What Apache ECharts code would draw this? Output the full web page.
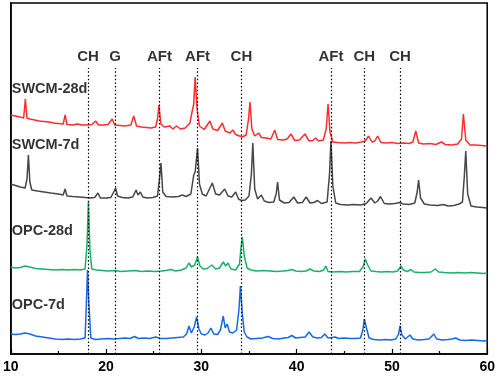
<!DOCTYPE html>
<html>
<head>
<meta charset="utf-8">
<script src="https://cdn.jsdelivr.net/npm/echarts@6/dist/echarts.min.js"></script>
<style>
  html, body { margin: 0; padding: 0; background: #fff; }
  #chart { width: 498px; height: 377px; }
</style>
</head>
<body>
<div id="chart"></div>
<script>
// 2theta / intensity (arbitrary units, patterns stacked with an offset)
var swcm28d = [
  [10.0,239],[10.5,238],[11.0,237],[11.35,236],[11.53,255],[11.7,236],[12.0,235],[12.5,234],[13.0,233],[13.5,232.5],
  [14.0,232],[14.5,231],[15.0,230.5],[15.5,230],[15.7,239],[15.9,229.5],[16.5,229],[17.0,230],[17.5,229],[18.0,229],
  [18.5,229.5],[18.9,233],[19.2,229],[19.7,229],[20.2,229.5],[20.65,235],[20.9,229],[21.5,228.5],[22.0,228],[22.6,229],
  [22.9,238],[23.2,228],[23.7,227],[24.2,226.5],[24.7,226],[25.2,227],[25.4,235],[25.55,249],[25.75,230],[26.1,227],
  [26.7,228],[27.0,225],[27.4,228],[27.8,225],[28.3,226],[28.8,231],[29.0,241],[29.2,250],[29.35,277],[29.55,245],
  [29.8,228],[30.3,224.5],[30.9,233],[31.2,225],[31.7,223.5],[32.2,231],[32.5,223],[33.0,221],[33.3,224],[33.6,219.5],
  [34.0,218],[34.3,217],[34.7,219],[34.95,235],[35.1,252],[35.3,225],[35.6,218],[36.0,221],[36.3,216.5],[36.8,216],
  [37.3,215],[37.7,224],[38.0,214.5],[38.6,214],[39.0,215],[39.4,220],[39.8,213.5],[40.3,214],[40.87,220],[41.3,213],
  [41.7,213.5],[42.0,216],[42.3,213],[42.8,214],[43.1,225],[43.3,250],[43.5,222],[43.8,212],[44.3,211.5],[45.0,211],
  [45.6,211.5],[46.2,211],[46.8,212],[47.2,213],[47.55,218],[47.9,212],[48.2,213],[48.5,218],[48.85,211.5],[49.4,211],
  [50.0,211.5],[50.6,210.5],[51.2,211],[51.8,210.5],[52.2,212],[52.5,223],[52.8,211],[53.3,210],[54.0,210.5],[54.6,209.5],
  [55.2,212],[55.6,209.5],[56.3,209],[56.9,210],[57.3,215],[57.5,240],[57.75,214],[58.2,209],[58.8,209],[59.4,208.5],[60.0,208]
];
var swcm7d = [
  [10.0,170],[10.5,168.5],[11.0,167],[11.5,166],[11.7,175],[11.85,199],[12.0,172],[12.2,164],[12.8,163],[13.5,162],
  [14.2,161],[15.0,160],[15.5,159],[15.7,165],[15.9,158],[16.5,157.5],[17.2,157],[17.8,156.5],[18.3,156],[18.8,156.5],
  [19.15,161],[19.4,156],[20.0,156],[20.5,156.5],[20.8,162],[21.0,166],[21.2,158],[21.7,156.5],[22.3,156],[22.8,157],
  [23.15,164],[23.35,159],[23.6,162],[23.85,157],[24.3,156],[24.9,156.5],[25.4,158],[25.6,175],[25.76,191],[25.95,162],
  [26.3,157.5],[27.0,157],[27.6,157.5],[28.0,159],[28.4,157.5],[28.9,160],[29.2,179],[29.35,182],[29.45,180],[29.6,206],
  [29.8,170],[30.1,160],[30.5,158],[31.15,171],[31.5,160],[31.9,159],[32.45,165],[32.8,158],[33.2,157],[33.6,162],
  [33.9,155],[34.2,153.5],[34.6,154],[35.0,158],[35.25,180],[35.4,211],[35.6,165],[35.9,155],[36.3,159],[36.6,153],
  [37.1,151.5],[37.6,152],[37.85,160],[38.0,172],[38.2,154],[38.7,151],[39.2,151.5],[39.7,157],[40.1,151],[40.6,151.5],
  [41.0,157],[41.4,151],[41.8,151.5],[42.2,153.5],[42.6,150.5],[43.2,152],[43.45,180],[43.6,213],[43.8,168],[44.1,151],
  [44.6,149.5],[45.3,149],[46.0,149.5],[46.7,149],[47.3,150.5],[47.8,156],[48.2,151],[48.5,153],[48.8,157.5],[49.2,150.5],
  [49.8,150],[50.3,150.5],[50.8,151.5],[51.2,150],[51.8,149.5],[52.4,151],[52.65,162],[52.8,174],[53.0,156],[53.4,150],
  [54.0,149],[54.8,148.5],[55.4,149.5],[55.9,148],[56.5,148.5],[57.05,150],[57.4,152],[57.6,178],[57.75,203],[57.95,160],
  [58.3,148],[58.9,147],[59.5,146.5],[60.0,146]
];
var opc28d = [
  [10.0,87],[10.5,86],[11.0,86.5],[11.5,88],[11.7,89],[12.0,87],[12.6,85.5],[13.3,85],[14.0,84.5],[14.7,84],
  [15.4,84.5],[16.0,84],[16.7,84.5],[17.3,84],[17.8,85],[18.0,110],[18.15,153],[18.3,105],[18.5,85],[19.0,84],
  [19.6,83.5],[20.2,83],[20.9,83.5],[21.6,82.5],[22.3,83],[23.0,83.5],[23.7,82.5],[24.4,83],[25.1,82.5],[25.8,83],
  [26.3,83.5],[26.8,84.5],[27.3,83],[27.9,84],[28.4,86],[28.7,91],[28.95,87],[29.3,89],[29.6,97],[29.85,88],
  [30.2,85],[30.6,85.5],[31.1,89],[31.5,85],[31.9,86],[32.3,92],[32.55,88],[32.8,91],[33.1,85],[33.6,84],
  [34.0,90],[34.15,105],[34.3,117],[34.5,98],[34.8,86],[35.2,84],[35.8,83],[36.5,83.5],[37.2,83],[37.9,82.5],
  [38.6,83],[39.1,83.5],[39.5,84.5],[39.9,83],[40.5,82.5],[41.0,83],[41.4,85],[41.8,83],[42.4,82.5],[42.85,84],
  [43.05,88],[43.3,82.5],[43.8,82],[44.5,82.5],[45.2,82],[45.9,82.5],[46.6,82.5],[47.0,88],[47.2,95],[47.45,89],
  [47.8,83],[48.3,82.5],[48.9,82],[49.5,82.5],[50.1,82],[50.6,83],[50.95,88],[51.2,84],[51.6,82.5],[52.0,84.5],
  [52.3,82],[52.9,81.5],[53.5,81.5],[54.1,82],[54.55,85],[54.9,82],[55.5,81.5],[56.2,81],[56.9,81.5],[57.6,81],
  [58.3,81.5],[59.0,81],[59.6,80.5],[60.0,81]
];
var opc7d = [
  [10.0,20],[10.5,19.5],[11.0,20],[11.5,21],[11.7,22],[12.0,20],[12.6,18],[13.3,17],[14.0,16],[14.7,15],
  [15.4,14.5],[16.0,15],[16.7,14.5],[17.3,15],[17.8,16],[17.95,55],[18.05,84],[18.2,50],[18.4,16],[18.9,14.5],
  [19.5,15],[20.1,15.5],[20.8,15],[21.4,15.5],[22.0,16],[22.5,15.5],[23.0,17.5],[23.4,15.5],[24.0,16],[24.6,15.5],
  [25.2,17],[25.7,15.5],[26.3,15.5],[26.9,16],[27.5,16.5],[28.1,17],[28.45,20],[28.7,28],[28.95,21],[29.25,27],
  [29.5,37],[29.75,25],[30.0,20],[30.4,19],[30.7,21],[31.0,26],[31.3,20],[31.7,19.5],[32.0,24],[32.3,38],
  [32.5,26],[32.7,30],[32.95,22],[33.3,21],[33.7,24],[33.95,45],[34.1,68],[34.3,40],[34.5,22],[34.8,17],
  [35.2,15],[35.8,15.5],[36.4,16],[37.0,17.5],[37.5,15.5],[38.1,15],[38.7,16],[39.1,16.5],[39.5,18.5],[39.9,16],
  [40.4,16.5],[40.9,17],[41.3,22],[41.7,17],[42.2,16],[42.6,16.5],[42.95,20],[43.3,16],[43.7,16.5],[44.05,17],
  [44.4,15.5],[45.0,16],[45.6,15.5],[46.2,15.5],[46.7,16],[46.95,24],[47.1,35],[47.3,27],[47.6,16],[48.1,14.5],
  [48.7,14],[49.3,14.5],[49.9,14],[50.4,15],[50.7,20],[50.85,28],[51.05,19],[51.4,15],[51.9,19],[52.2,15],
  [52.8,14],[53.4,14.5],[53.9,15],[54.4,20],[54.7,15],[55.3,14],[55.9,14.5],[56.3,15],[56.7,16],[57.1,14],
  [57.7,13.5],[58.4,14],[59.0,13.5],[59.6,13],[60.0,13.5]
];

// phase markers: name and 2theta
var phaseNames = ['CH', 'G', 'AFt', 'AFt', 'CH', 'AFt', 'CH', 'CH'];
var phasePos = [18.1, 20.95, 25.6, 29.6, 34.2, 43.6, 47.1, 50.85];

var seriesNames = ['SWCM-28d', 'SWCM-7d', 'OPC-28d', 'OPC-7d'];
var nameLevel = [265, 209, 123, 49];

var xTicks = [10, 20, 30, 40, 50, 60];

var myChart = echarts.init(document.getElementById('chart'));

var markTop = 286, labelLevel = 297;
var fnt = 'Arial, "Liberation Sans", sans-serif';

function line(name, data, color) {
  return {
    name: name,
    type: 'line',
    data: data,
    showSymbol: false,
    symbol: 'none',
    smooth: false,
    lineStyle: { color: color, width: 1.5 },
    z: 3
  };
}

var marker = phasePos.map(function (p) {
  return [{ coord: [p, 0] }, { coord: [p, markTop] }];
});

myChart.setOption({
  animation: false,
  backgroundColor: '#fff',
  grid: {
    left: 9, right: 10, top: 3, bottom: 23,
    show: true, borderColor: '#000', borderWidth: 1.5
  },
  xAxis: {
    type: 'value',
    min: xTicks[0],
    max: xTicks[xTicks.length - 1],
    interval: 10,
    splitLine: { show: false },
    axisLine: { lineStyle: { color: '#000', width: 1.5 } },
    axisTick: { inside: true, length: 5, lineStyle: { color: '#000', width: 1.2 } },
    minorTick: { show: true, splitNumber: 2, length: 3, lineStyle: { color: '#000', width: 1.2 } },
    axisLabel: { color: '#000', fontWeight: 'bold', fontSize: 14, fontFamily: fnt, margin: 6 }
  },
  yAxis: {
    type: 'value',
    min: 0,
    max: 351,
    show: true,
    splitLine: { show: false },
    axisLine: { show: true, lineStyle: { color: '#000', width: 1.5 } },
    axisTick: { show: false },
    axisLabel: { show: false }
  },
  series: [
    line('SWCM-28d', swcm28d, '#ff2e2e'),
    line('SWCM-7d', swcm7d, '#474747'),
    line('OPC-28d', opc28d, '#17b168'),
    line('OPC-7d', opc7d, '#1569e6'),
    {
      type: 'scatter',
      symbolSize: 0,
      data: phasePos.map(function (p, i) { return [p, labelLevel, phaseNames[i]]; }),
      label: {
        show: true, position: 'inside',
        formatter: function (d) { return d.data[2]; },
        color: '#000', fontWeight: 'bold', fontSize: 15, fontFamily: fnt
      },
      markLine: {
        silent: true,
        symbol: 'none',
        label: { show: false },
        lineStyle: { color: '#000', type: [1.5, 2.2], width: 1.2 },
        data: marker
      },
      z: 2
    },
    {
      type: 'scatter',
      symbolSize: 0,
      data: seriesNames.map(function (n, i) { return [10.1, nameLevel[i], n]; }),
      label: {
        show: true, position: 'right', distance: 0,
        formatter: function (d) { return d.data[2]; },
        color: '#000', fontWeight: 'bold', fontSize: 14.5, fontFamily: fnt
      },
      z: 4
    }
  ]
});
</script>
</body>
</html>
